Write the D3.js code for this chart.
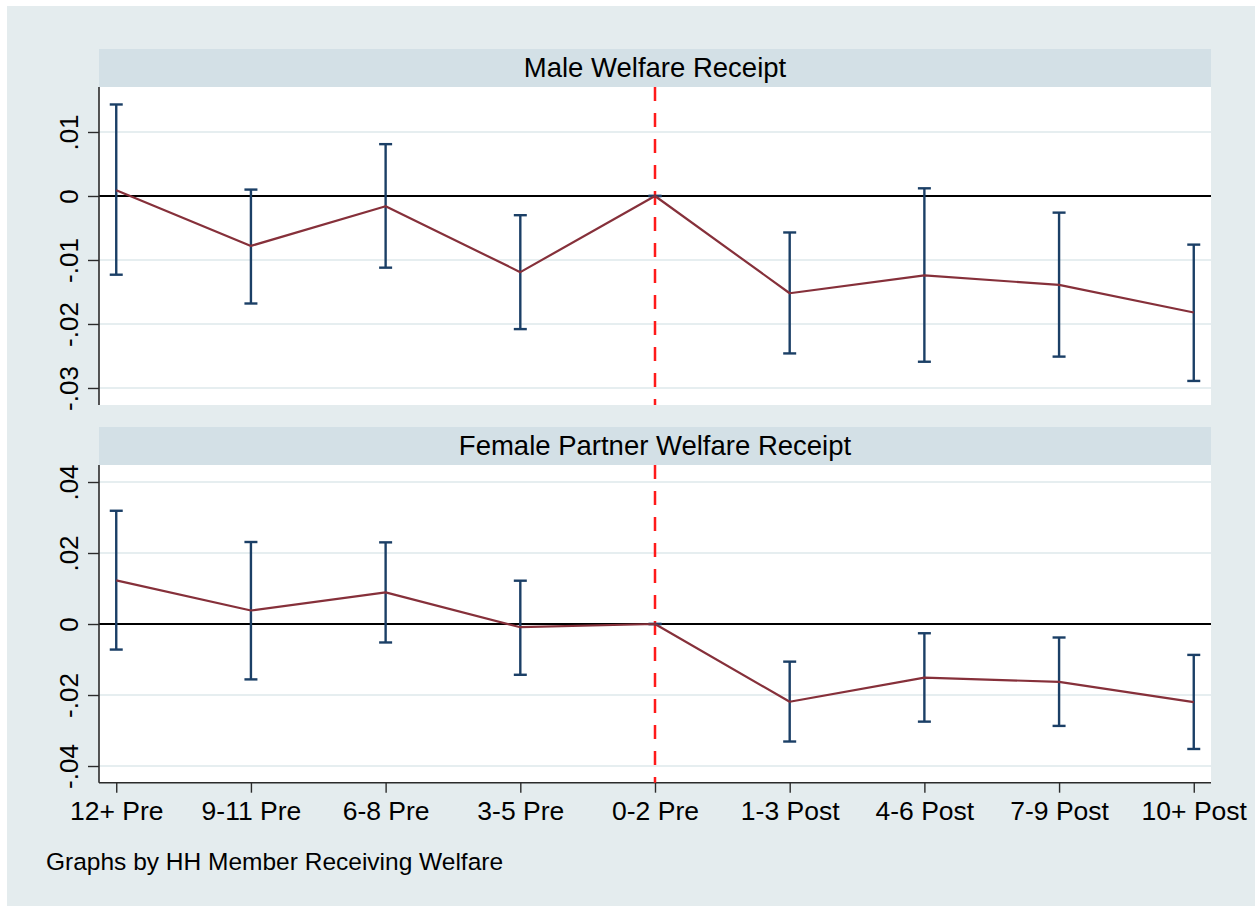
<!DOCTYPE html>
<html>
<head>
<meta charset="utf-8">
<script src="https://cdn.jsdelivr.net/npm/d3@7"></script>
<style>
  html, body { margin: 0; padding: 0; background: #ffffff; }
  svg { display: block; }
  text { font-family: Helvetica, Arial, "Liberation Sans", sans-serif; fill: #000; }
</style>
</head>
<body>
<svg id="chart" width="1258" height="907"></svg>
<script>
// ---- data ----
const categories = ["12+ Pre", "9-11 Pre", "6-8 Pre", "3-5 Pre", "0-2 Pre", "1-3 Post", "4-6 Post", "7-9 Post", "10+ Post"];

const maleTitle = "Male Welfare Receipt";
const maleCoef = [0.0009, -0.0078, -0.0016, -0.0119, 0, -0.0152, -0.0124, -0.0139, -0.0182];
const maleLo   = [-0.0123, -0.0168, -0.0112, -0.0208, 0, -0.0246, -0.0259, -0.0251, -0.0289];
const maleHi   = [0.0143, 0.0010, 0.0081, -0.0030, 0, -0.0057, 0.0012, -0.0026, -0.0076];
const maleTicks = [0.01, 0, -0.01, -0.02, -0.03];
const maleTickLabels = [".01", "0", "-.01", "-.02", "-.03"];

const femaleTitle = "Female Partner Welfare Receipt";
const femaleCoef = [0.0123, 0.0038, 0.0089, -0.0009, 0, -0.0219, -0.0151, -0.0163, -0.0220];
const femaleLo   = [-0.0072, -0.0156, -0.0052, -0.0143, 0, -0.0331, -0.0275, -0.0287, -0.0352];
const femaleHi   = [0.0319, 0.0231, 0.0230, 0.0122, 0, -0.0106, -0.0026, -0.0038, -0.0087];
const femaleTicks = [0.04, 0.02, 0, -0.02, -0.04];
const femaleTickLabels = [".04", ".02", "0", "-.02", "-.04"];

const footerText = "Graphs by HH Member Receiving Welfare";
const eventIndex = 4; // "0-2 Pre"

// ---- styles ----
const C = {
  outerBg: "#e4ecee",
  strip: "#d3e0e6",
  grid: "#e6eef0",
  axis: "#2b2b2b",
  line: "#86303a",
  ci: "#1b3f66",
  vline: "#ff1a1a"
};

const svg = d3.select("#chart");
svg.append("rect").attr("x", 7).attr("y", 6).attr("width", 1248).attr("height", 900).attr("fill", C.outerBg);

const plotLeft = 99, plotRight = 1211;
const x = d3.scaleLinear().domain([-0.128, 8.128]).range([plotLeft, plotRight]);

const panels = [
  { title: maleTitle, coef: maleCoef, lo: maleLo, hi: maleHi, ticks: maleTicks, labels: maleTickLabels,
    stripTop: 49, top: 87, bottom: 405, domain: [-0.03266, 0.01703], xAxis: false },
  { title: femaleTitle, coef: femaleCoef, lo: femaleLo, hi: femaleHi, ticks: femaleTicks, labels: femaleTickLabels,
    stripTop: 427, top: 465, bottom: 782.7, domain: [-0.0447, 0.04479], xAxis: true }
];

panels.forEach(p => {
  const g = svg.append("g");
  const y = d3.scaleLinear().domain(p.domain).range([p.bottom, p.top]);

  // strip
  g.append("rect").attr("x", plotLeft).attr("y", p.stripTop).attr("width", plotRight - plotLeft)
    .attr("height", p.top - p.stripTop).attr("fill", C.strip);
  g.append("text").attr("x", (plotLeft + plotRight) / 2).attr("y", p.top - 10)
    .attr("text-anchor", "middle").style("font-size", "27.5px").text(p.title);

  // plot area
  g.append("rect").attr("x", plotLeft).attr("y", p.top).attr("width", plotRight - plotLeft)
    .attr("height", p.bottom - p.top).attr("fill", "#ffffff");

  // gridlines
  g.selectAll(".grid").data(p.ticks.filter(t => t !== 0)).enter().append("line")
    .attr("x1", plotLeft).attr("x2", plotRight)
    .attr("y1", d => y(d)).attr("y2", d => y(d))
    .attr("stroke", C.grid).attr("stroke-width", 2);

  // zero line
  g.append("line").attr("x1", plotLeft).attr("x2", plotRight)
    .attr("y1", y(0)).attr("y2", y(0)).attr("stroke", "#000").attr("stroke-width", 2);

  // y axis
  const yAxis = d3.axisLeft(y).tickValues(p.ticks).tickSize(11).tickPadding(0)
    .tickFormat((d, i) => p.labels[i]);
  const ag = g.append("g").attr("transform", `translate(${plotLeft},0)`).call(yAxis);
  ag.select(".domain").attr("stroke", C.axis).attr("stroke-width", 1.6)
    .attr("d", `M0,${p.top}V${p.bottom}`);
  ag.selectAll(".tick line").attr("stroke", C.axis).attr("stroke-width", 1.4);
  ag.selectAll(".tick text")
    .attr("x", 0).attr("y", -21).attr("dy", 0)
    .attr("transform", "rotate(-90)")
    .attr("text-anchor", "middle")
    .style("font-size", "26px").attr("fill", "#000")
    .style("font-family", "Helvetica, Arial, 'Liberation Sans', sans-serif");

  // x axis (bottom panel)
  if (p.xAxis) {
    const xAxis = d3.axisBottom(x).tickValues(d3.range(categories.length)).tickSize(10).tickPadding(7)
      .tickFormat(i => categories[i]);
    const xg = g.append("g").attr("transform", `translate(0,${p.bottom})`).call(xAxis);
    xg.select(".domain").attr("stroke", C.axis).attr("stroke-width", 1.6)
      .attr("d", `M${plotLeft},0H${plotRight}`);
    xg.selectAll(".tick line").attr("stroke", C.axis).attr("stroke-width", 1.4);
    xg.selectAll(".tick text").attr("dy", 0).attr("y", 37.5)
      .style("font-size", "26.5px").attr("fill", "#000")
      .style("font-family", "Helvetica, Arial, 'Liberation Sans', sans-serif");
  }

  // red dashed event line
  g.append("line").attr("x1", x(eventIndex)).attr("x2", x(eventIndex))
    .attr("y1", p.top).attr("y2", p.bottom)
    .attr("stroke", C.vline).attr("stroke-width", 2.5).attr("stroke-dasharray", "14,12");

  // error bars
  const idx = d3.range(categories.length);
  const capW = 6.5;
  const eb = g.append("g").attr("stroke", C.ci).attr("stroke-width", 2.4).attr("fill", "none");
  eb.selectAll(".v").data(idx).enter().append("line")
    .attr("x1", i => x(i)).attr("x2", i => x(i))
    .attr("y1", i => y(p.lo[i])).attr("y2", i => y(p.hi[i]));
  eb.selectAll(".ct").data(idx).enter().append("line")
    .attr("x1", i => x(i) - capW).attr("x2", i => x(i) + capW)
    .attr("y1", i => y(p.hi[i])).attr("y2", i => y(p.hi[i]));
  eb.selectAll(".cb").data(idx).enter().append("line")
    .attr("x1", i => x(i) - capW).attr("x2", i => x(i) + capW)
    .attr("y1", i => y(p.lo[i])).attr("y2", i => y(p.lo[i]));

  // coefficient line
  const line = d3.line().x(i => x(i)).y(i => y(p.coef[i]));
  g.append("path").datum(idx).attr("d", line)
    .attr("fill", "none").attr("stroke", C.line).attr("stroke-width", 2.2).attr("stroke-linejoin", "round");
});

// footer
svg.append("text").attr("x", 46).attr("y", 870).style("font-size", "24.5px").text(footerText);
</script>
</body>
</html>
